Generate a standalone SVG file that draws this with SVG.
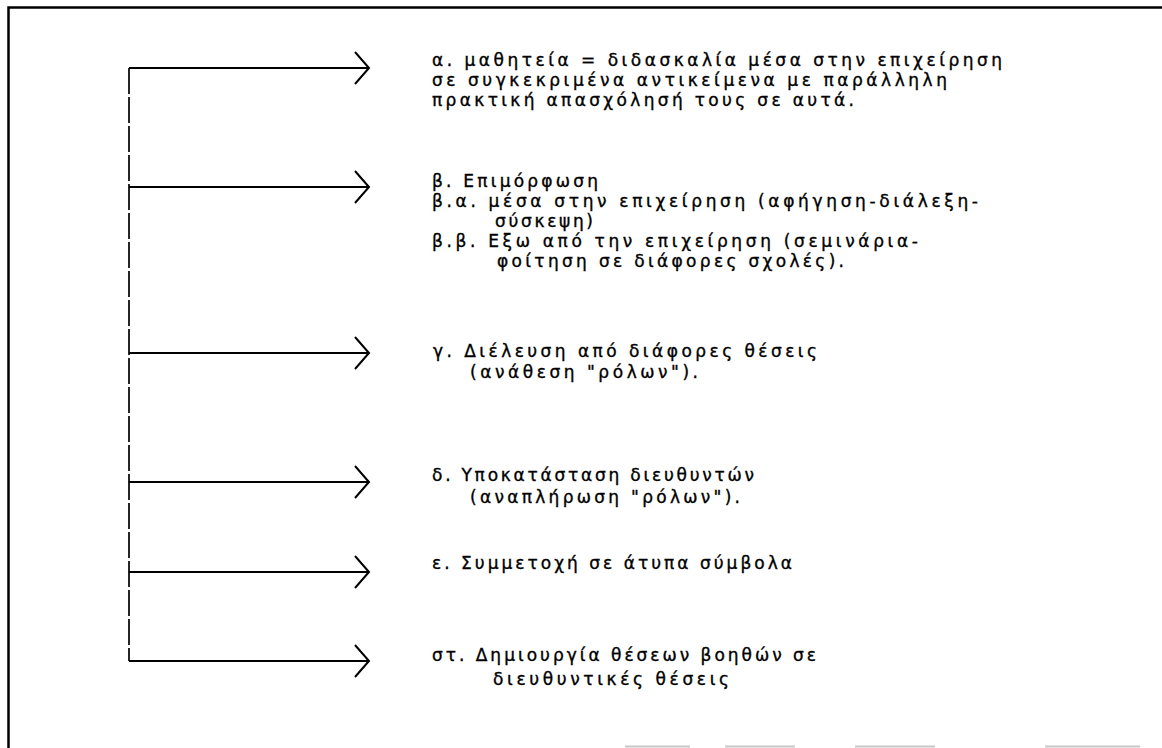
<svg xmlns="http://www.w3.org/2000/svg" width="1162" height="748" viewBox="0 0 1162 748">
  <style>
    .frame { fill: none; stroke: #000; stroke-width: 2.5; }
    .trunk { fill: none; stroke: #000; stroke-width: 1.7; stroke-dasharray: 26 3; }
    .branch { fill: none; stroke: #000; stroke-width: 2; }
    .head { fill: none; stroke: #000; stroke-width: 2; stroke-linejoin: miter; }
    .scan { fill: none; stroke: #c8c8c8; stroke-width: 2; }
    text { font-family: "DejaVu Sans", "Noto Sans", sans-serif; font-size: 17px; fill: #000; stroke: #000; stroke-width: 0.35; }
  </style>
  <defs>
    <path id="chevron" class="head" d="M -14 -16 L 0 0 L -14 16"/>
  </defs>

  <rect width="1162" height="748" fill="#fff"/>

  <!-- outer frame: top and left edges only -->
  <g id="frame">
    <path class="frame" d="M 8.5 748 L 8.5 7.5 L 1162 7.5"/>
    <path class="scan" d="M 625 746.5 L 690 746.5 M 725 746.5 L 795 746.5 M 855 746.5 L 935 746.5 M 1045 746.5 L 1140 746.5"/>
  </g>

  <!-- trunk and branch arrows -->
  <g id="connectors">
    <path class="trunk" d="M 129 68 L 129 661"/>
    <path class="branch" d="M 129 68 L 368 68"/>
    <use href="#chevron" x="369" y="68"/>
    <path class="branch" d="M 129 187 L 368 187"/>
    <use href="#chevron" x="369" y="187"/>
    <path class="branch" d="M 129 353 L 368 353"/>
    <use href="#chevron" x="369" y="353"/>
    <path class="branch" d="M 129 482 L 368 482"/>
    <use href="#chevron" x="369" y="482"/>
    <path class="branch" d="M 129 572 L 368 572"/>
    <use href="#chevron" x="369" y="572"/>
    <path class="branch" d="M 129 661 L 368 661"/>
    <use href="#chevron" x="369" y="661"/>
  </g>

  <g id="item-a">
    <text x="432" y="66" textLength="570" lengthAdjust="spacing">α. μαθητεία = διδασκαλία μέσα στην επιχείρηση</text>
    <text x="432" y="86" textLength="515" lengthAdjust="spacing">σε συγκεκριμένα αντικείμενα με παράλληλη</text>
    <text x="432" y="106" textLength="422" lengthAdjust="spacing">πρακτική απασχόλησή τους σε αυτά.</text>
  </g>

  <g id="item-b">
    <text x="432" y="187" textLength="166" lengthAdjust="spacing">β. Επιμόρφωση</text>
    <text x="432" y="207" textLength="546" lengthAdjust="spacing">β.α. μέσα στην επιχείρηση (αφήγηση-διάλεξη-</text>
    <text x="495" y="227" textLength="98" lengthAdjust="spacing">σύσκεψη)</text>
    <text x="432" y="247" textLength="486" lengthAdjust="spacing">β.β. Εξω από την επιχείρηση (σεμινάρια-</text>
    <text x="497" y="267" textLength="347" lengthAdjust="spacing">φοίτηση σε διάφορες σχολές).</text>
  </g>

  <g id="item-c">
    <text x="433" y="357" textLength="384" lengthAdjust="spacing">γ. Διέλευση από διάφορες θέσεις</text>
    <text x="470" y="378" textLength="228" lengthAdjust="spacing">(ανάθεση "ρόλων").</text>
  </g>

  <g id="item-d">
    <text x="432" y="481" textLength="322" lengthAdjust="spacing">δ. Υποκατάσταση διευθυντών</text>
    <text x="470" y="503" textLength="270" lengthAdjust="spacing">(αναπλήρωση "ρόλων").</text>
  </g>

  <g id="item-e">
    <text x="432" y="569" textLength="360" lengthAdjust="spacing">ε. Συμμετοχή σε άτυπα σύμβολα</text>
  </g>

  <g id="item-f">
    <text x="432" y="661" textLength="384" lengthAdjust="spacing">στ. Δημιουργία θέσεων βοηθών σε</text>
    <text x="493" y="685" textLength="236" lengthAdjust="spacing">διευθυντικές θέσεις</text>
  </g>
</svg>
